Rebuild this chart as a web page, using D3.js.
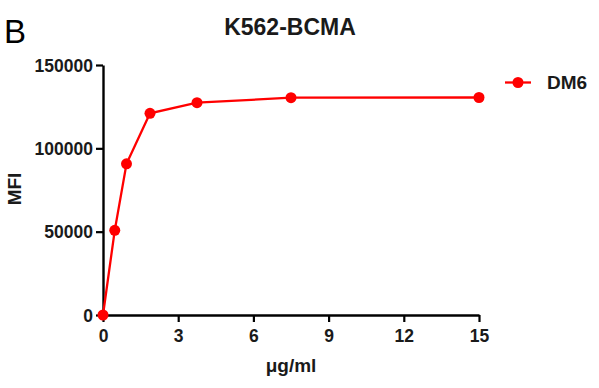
<!DOCTYPE html>
<html>
<head>
<meta charset="utf-8">
<script src="https://cdn.jsdelivr.net/npm/d3@7"></script>
<style>
  body { margin: 0; background: #fff; }
  text { font-family: "Liberation Sans", Arial, sans-serif; }
</style>
</head>
<body>
<svg></svg>
<script>
// Chart data
const concentrations = [0, 0.469, 0.9375, 1.875, 3.75, 7.5, 15];
const mfiValues = [0, 50800, 90700, 121000, 127400, 130400, 130500];
const xTicks = [0, 3, 6, 9, 12, 15];
const yTicks = [0, 50000, 100000, 150000];
const seriesName = "DM6";

const width = 599;
const height = 388;
const red = "#ff0000";
const ink = "#1a1a1a";

const svg = d3.select("svg").attr("width", width).attr("height", height);

// Scales
const x = d3.scaleLinear().domain([0, 15]).range([103, 479]);
const y = d3.scaleLinear().domain([0, 150000]).range([315, 65]);

// Axes
const xAxis = svg
  .append("g")
  .attr("transform", `translate(0, ${y(0)})`)
  .call(d3.axisBottom(x).tickValues(xTicks).tickSize(7).tickSizeOuter(0));

const yAxis = svg
  .append("g")
  .attr("transform", `translate(${x(0)}, 0)`)
  .call(d3.axisLeft(y).tickValues(yTicks).tickFormat(d3.format("d")).tickSize(7).tickSizeOuter(0));

[xAxis, yAxis].forEach((g) => {
  g.select(".domain").attr("stroke", "#000").attr("stroke-width", 2.4);
  g.selectAll(".tick line").attr("stroke", "#000").attr("stroke-width", 2.2);
  g.selectAll(".tick text")
    .attr("fill", ink)
    .style("font-size", "17.5px")
    .style("font-weight", "bold");
});
xAxis.selectAll(".tick text").attr("y", 27).attr("dy", 0);
yAxis.selectAll(".tick text").attr("x", -10).attr("dy", "0.36em");

// Line and markers
const points = concentrations.map((c, i) => ({ c, v: mfiValues[i] }));
const line = d3.line().x((d) => x(d.c)).y((d) => y(d.v));

svg
  .append("path")
  .datum(points)
  .attr("fill", "none")
  .attr("stroke", red)
  .attr("stroke-width", 2.3)
  .attr("d", line);

svg
  .selectAll("circle.pt")
  .data(points)
  .enter()
  .append("circle")
  .attr("class", "pt")
  .attr("cx", (d) => x(d.c))
  .attr("cy", (d) => y(d.v))
  .attr("r", 5.5)
  .attr("fill", red);

// Title, panel letter, axis labels
svg.append("text")
  .attr("x", 290).attr("y", 35)
  .attr("text-anchor", "middle")
  .style("font-size", "23px").style("font-weight", "bold")
  .attr("fill", ink)
  .text("K562-BCMA");

svg.append("text")
  .attr("x", 4).attr("y", 43)
  .style("font-size", "33px")
  .attr("fill", "#000")
  .text("B");

svg.append("text")
  .attr("transform", "translate(21, 189) rotate(-90)")
  .attr("text-anchor", "middle")
  .style("font-size", "19px").style("font-weight", "bold")
  .attr("fill", ink)
  .text("MFI");

svg.append("text")
  .attr("x", 291).attr("y", 372)
  .attr("text-anchor", "middle")
  .style("font-size", "19px").style("font-weight", "bold")
  .attr("fill", ink)
  .text("μg/ml");

// Legend
const legend = svg.append("g").attr("transform", "translate(505, 82.5)");
legend.append("line")
  .attr("x1", 0).attr("x2", 26)
  .attr("stroke", red).attr("stroke-width", 2.3);
legend.append("circle").attr("cx", 13).attr("r", 5.5).attr("fill", red);
legend.append("text")
  .attr("x", 42).attr("y", 6)
  .style("font-size", "19px").style("font-weight", "bold")
  .attr("fill", ink)
  .text(seriesName);
</script>
</body>
</html>
